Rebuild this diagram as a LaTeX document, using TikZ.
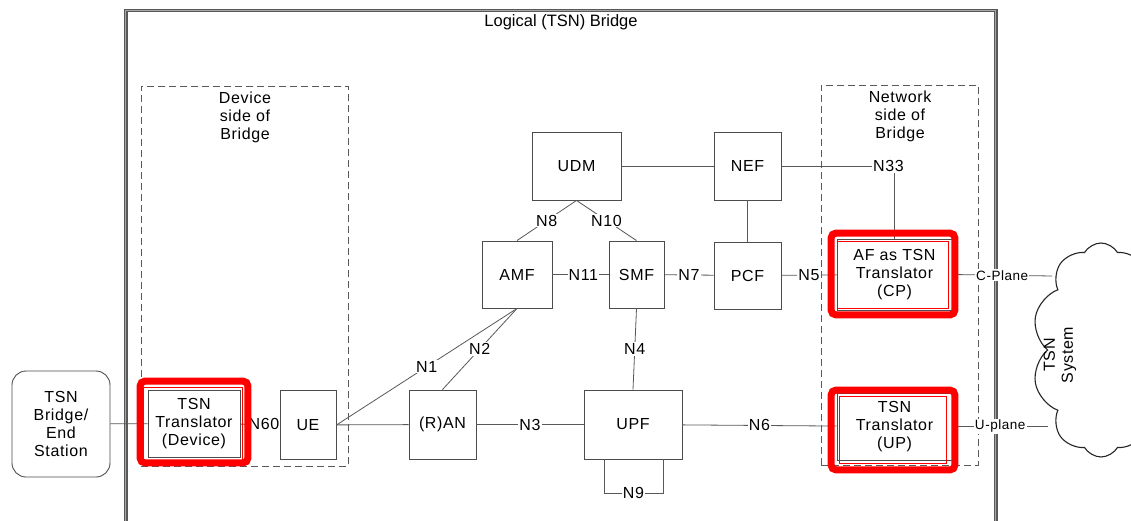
\documentclass[tikz,border=0pt]{standalone}
\usepackage{fontspec}
\setmainfont{Liberation Sans}[LetterSpace=4]
\newfontfamily\titlefont{Liberation Sans}
\usetikzlibrary{shapes.symbols,calc}
\begin{document}
\begin{tikzpicture}[x=1pt,y=-1pt,
  box/.style={draw=black!70, line width=0.9pt, fill=white, align=center, inner sep=0pt, font=\fontsize{16}{18}\selectfont},
  lbl/.style={fill=white, inner sep=1pt, font=\fontsize{16}{18}\selectfont},
  smalllbl/.style={fill=white, inner sep=1pt, font=\fontsize{13.5}{15}\selectfont},
  conn/.style={draw=black!65, line width=0.8pt},
  dbox/.style={draw=black!65, line width=0.9pt, dash pattern=on 7pt off 4pt},
  bridgebox/.style={draw=black!65, line width=1.4pt, double=black!35, double distance=0.8pt},
  redthick/.style={draw=red, line width=7pt, rounded corners=5pt},
  redthin/.style={draw=red, line width=1.5pt},
  txt/.style={align=center, font=\fontsize{16}{18}\selectfont}
]
\useasboundingbox (0,0) rectangle (1131,521);
\clip (0,0) rectangle (1131,521);
\fill[white] (0,0) rectangle (1131,521);

% bridge frame
\node[bridgebox, anchor=north west, minimum width=870, minimum height=540, inner sep=0pt] (bridge) at (125,10) {};
\node[align=center, font=\titlefont\fontsize{16.5}{18}\selectfont] (title) at (561,22) {Logical (TSN) Bridge};

% dashed sides
\node[dbox, anchor=north west, minimum width=207, minimum height=380, inner sep=0pt] (devside) at (141,86) {};
\node[txt] (devlbl) at (245,117) {Device\\side of\\Bridge};
\node[dbox, anchor=north west, minimum width=157, minimum height=380, inner sep=0pt] (netside) at (821,85) {};
\node[txt] (netlbl) at (900,116) {Network\\side of\\Bridge};

% nodes
\node[box, minimum width=98, minimum height=106, rounded corners=14] (tsnb) at (61,424) {TSN\\Bridge/\\End\\Station};
\node[box, minimum width=92, minimum height=67] (trd) at (194,423.5) {TSN\\Translator\\(Device)};
\node[box, minimum width=56, minimum height=69] (ue) at (308,425) {UE};
\node[box, minimum width=67, minimum height=69] (ran) at (442.5,424.5) {(R)AN};
\node[box, minimum width=98, minimum height=69] (upf) at (633,424.5) {UPF};
\node[box, minimum width=70, minimum height=67] (amf) at (517,274.5) {AMF};
\node[box, minimum width=55, minimum height=67] (smf) at (636.5,274.5) {SMF};
\node[box, minimum width=67, minimum height=67] (pcf) at (747.5,275.5) {PCF};
\node[box, minimum width=89, minimum height=68] (udm) at (576.5,166) {UDM};
\node[box, minimum width=67, minimum height=68] (nef) at (747.5,166) {NEF};
\node[box, minimum width=115, minimum height=71] (af) at (894.5,274.5) {AF as TSN\\Translator\\(CP)};
\node[box, minimum width=115, minimum height=67] (tru) at (894.5,426.5) {TSN\\Translator\\(UP)};

% cloud
\node[cloud, draw=black!85, line width=1.1pt, cloud puffs=10, cloud puff arc=120, aspect=0.6, minimum width=138, minimum height=214, inner sep=0pt] (cloud) at (1101,350) {};
\node[txt, rotate=90] (sys) at (1060,355) {TSN\\System};
\coordinate (cpend) at (1052,276);
\coordinate (upend) at (1048,426.5);

% connectors
\draw[conn] (tsnb) -- (trd);
\draw[conn] (trd) -- node[lbl, pos=0.6] {N60} (ue);
\draw[conn] (ue) -- (ran);
\draw[conn] (ue.east) -- node[lbl] {N1} (amf.south);
\draw[conn] (amf.south) -- node[lbl] {N2} (ran.north);
\draw[conn] (ran) -- node[lbl] {N3} (upf);
\draw[conn] (upf) -- node[lbl] {N6} (tru);
\draw[conn] (smf.south) -- node[lbl] {N4} (upf.north);
\draw[conn] (udm.south) -- node[lbl] {N8} (amf.north);
\draw[conn] (udm.south) -- node[lbl] {N10} (smf.north);
\draw[conn] (amf) -- node[lbl, pos=0.55] {N11} (smf);
\draw[conn] (smf) -- node[lbl] {N7} (pcf);
\draw[conn] (pcf) -- node[lbl] {N5} (af);
\draw[conn] (udm) -- (nef);
\draw[conn] (nef) -- (pcf);
\draw[conn] (nef.east) -| node[lbl, pos=0.5, xshift=-6pt] {N33} (af.north);
\draw[conn] ([xshift=-29pt]upf.south) -- ++(0,34) -- node[lbl] {N9} ++(59,0) -- ([xshift=30pt]upf.south);
\draw[conn] (af.east) -- node[smalllbl] {C-Plane} (cpend);
\draw[conn] (tru.east) -- node[smalllbl] {U-plane} (upend);

% red highlight frames
\draw[redthick] ([shift={(-7.5,-8.5)}]trd.north west) rectangle ([shift={(7.5,5.5)}]trd.south east);
\draw[redthin] ([shift={(-4,-2)}]trd.north west) rectangle ([shift={(2,3)}]trd.south east);
\draw[redthick] ([shift={(-5.5,-5.5)}]af.north west) rectangle ([shift={(2.5,4.5)}]af.south east);
\draw[redthin] ([shift={(1,3)}]af.north west) rectangle ([shift={(-4,-2)}]af.south east);
\draw[redthick] ([shift={(-5.5,-2.5)}]tru.north west) rectangle ([shift={(2.5,9.5)}]tru.south east);
\draw[redthin] ([shift={(3,4)}]tru.north west) rectangle ([shift={(-6,3)}]tru.south east);
\end{tikzpicture}
\end{document}
